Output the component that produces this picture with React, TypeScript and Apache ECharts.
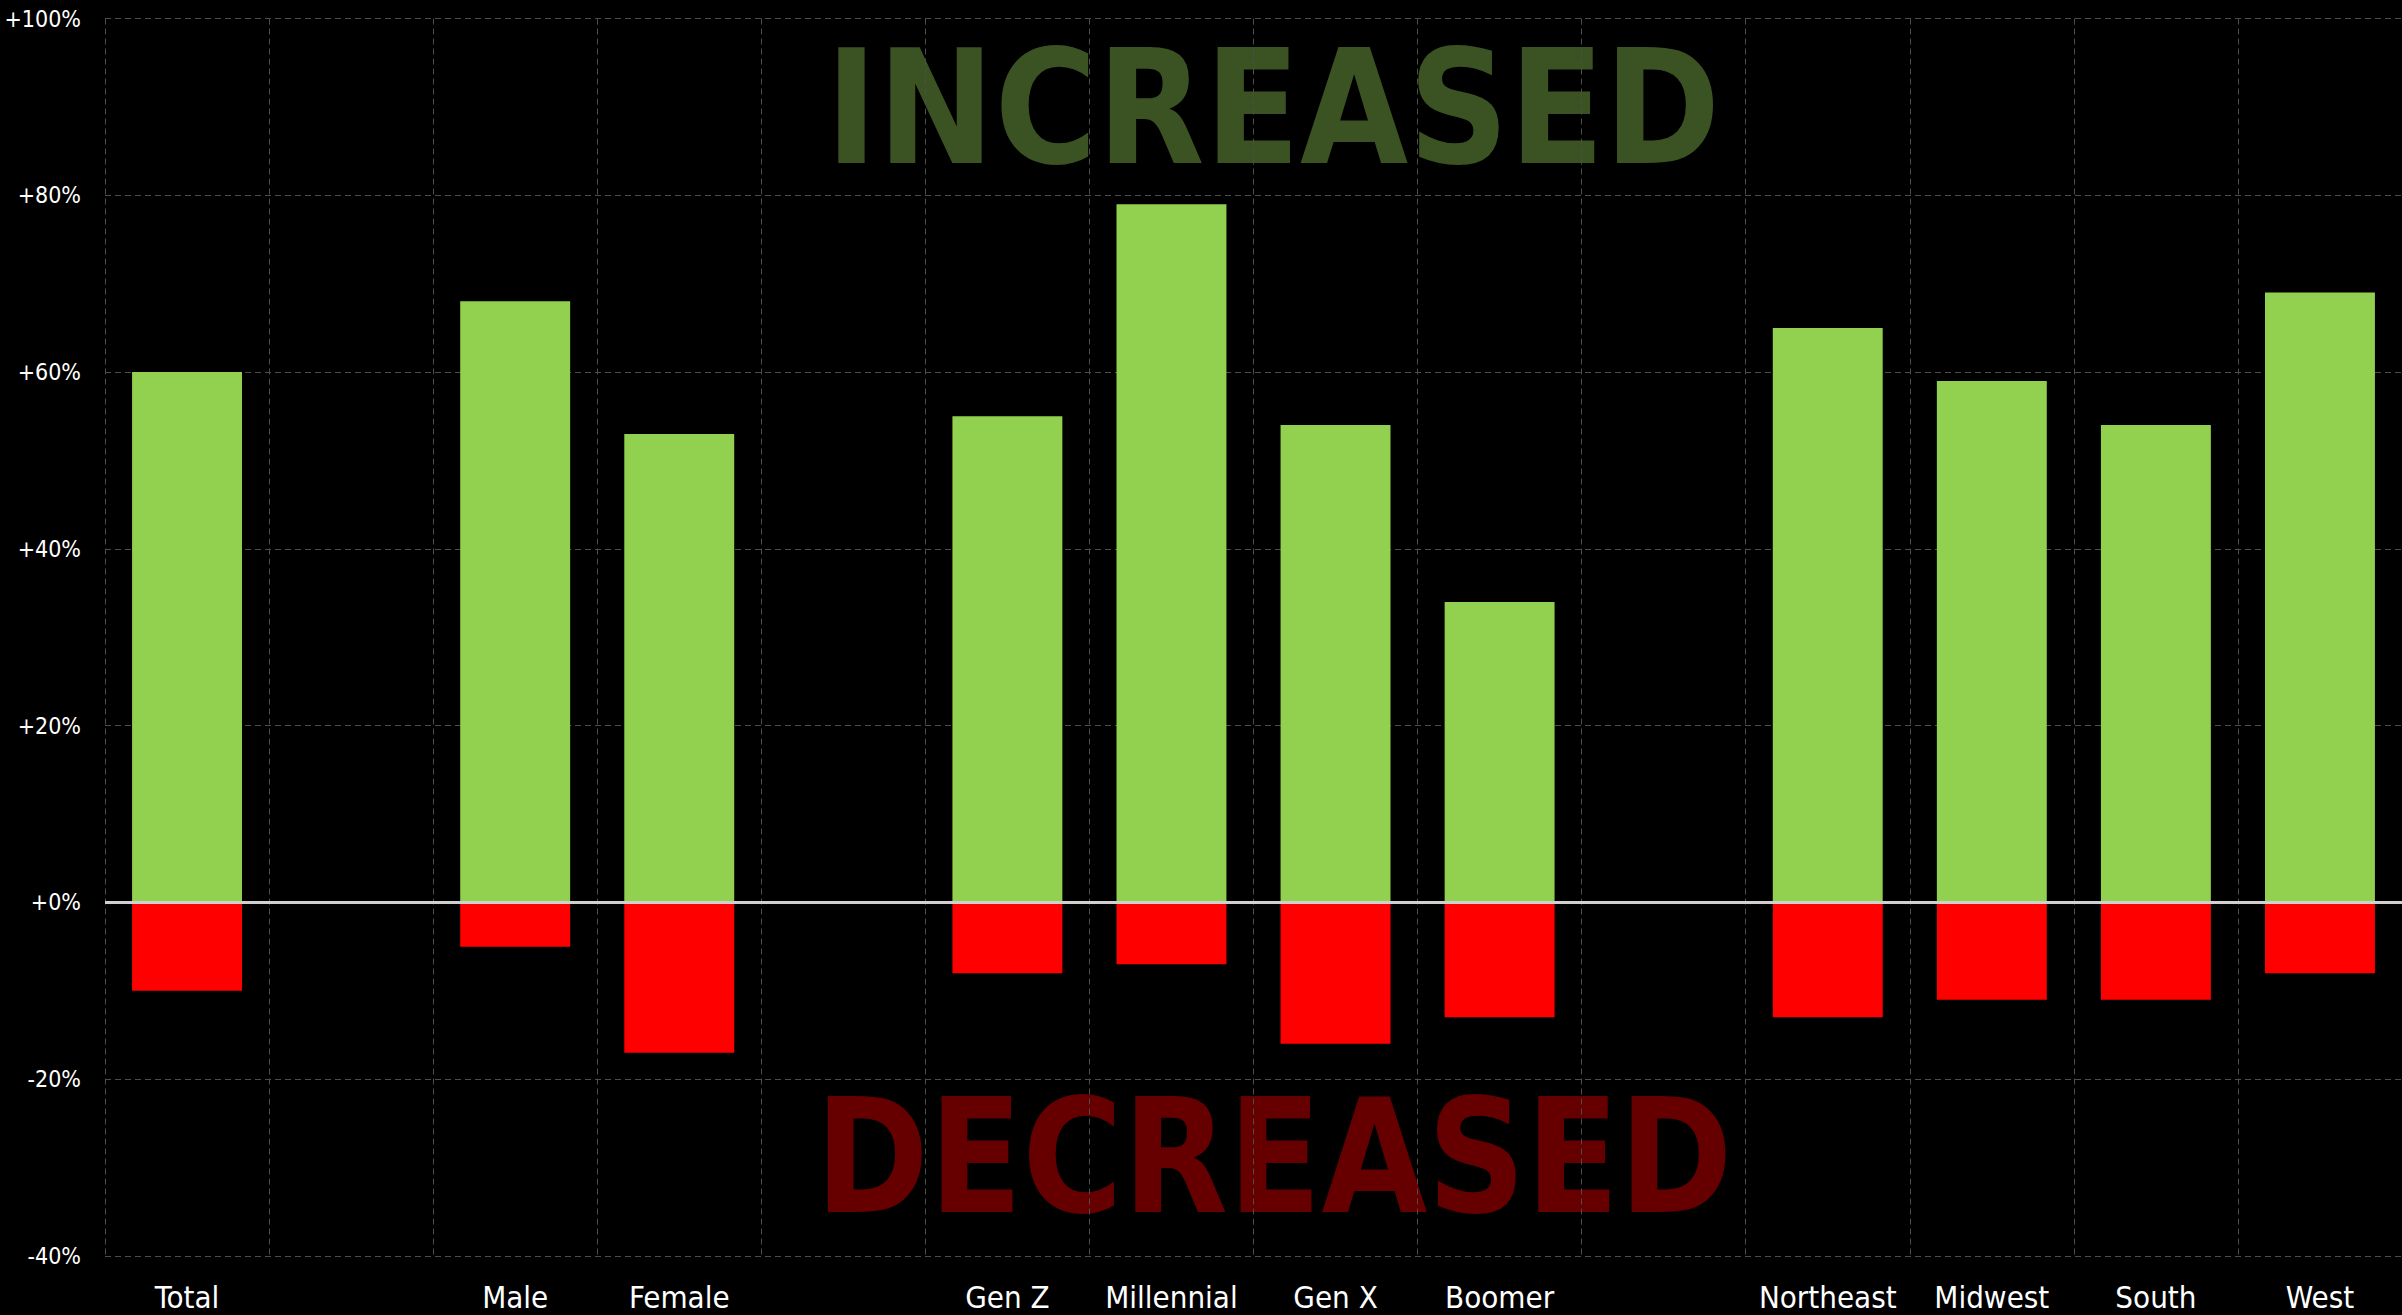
import React, { useEffect, useRef } from "react";
import * as echarts from "echarts";

const categories = [
  "Total", "", "Male", "Female", " ", "Gen Z", "Millennial", "Gen X", "Boomer", "  ",
  "Northeast", "Midwest", "South", "West",
];
const increased = [60, null, 68, 53, null, 55, 79, 54, 34, null, 65, 59, 54, 69];
const decreased = [-10, null, -5, -17, null, -8, -7, -16, -13, null, -13, -11, -11, -8];

const Y_MIN = -40;
const Y_MAX = 100;
const Y_STEP = 20;

const FONT = "'DejaVu Sans Condensed', 'DejaVu Sans', sans-serif";

export default function App() {
  const ref = useRef<HTMLDivElement>(null);

  useEffect(() => {
    if (!ref.current) return;
    const chart = echarts.init(ref.current, null, { renderer: "svg" });
    const dashed = { color: "#4d4d4d", width: 1, type: [6, 4] as any };
    chart.setOption({
      animation: false,
      backgroundColor: "#000000",
      grid: {
        left: 105,
        right: 0,
        top: 18.5,
        bottom: 59,
        containLabel: false,
        outerBoundsMode: "none",
      },
      graphic: [
        {
          type: "text",
          x: 1273,
          y: 109,
          z: -10,
          scaleX: 0.983,
          style: {
            text: "INCREASED",
            fill: "#3b5323",
            font: "bold 158px " + FONT,
            textAlign: "center",
            textVerticalAlign: "middle",
          },
        },
        {
          type: "text",
          x: 1274,
          y: 1157,
          z: -10,
          scaleX: 0.962,
          style: {
            text: "DECREASED",
            fill: "#660000",
            font: "bold 158px " + FONT,
            textAlign: "center",
            textVerticalAlign: "middle",
          },
        },
      ],
      xAxis: {
        type: "category",
        data: categories,
        axisLine: { show: false },
        axisTick: { show: false },
        axisLabel: {
          interval: 0,
          color: "#ffffff",
          fontSize: 31,
          lineHeight: 31,
          fontFamily: FONT,
          margin: 25,
        },
        splitLine: { show: true, interval: 0, lineStyle: dashed },
      },
      yAxis: {
        type: "value",
        min: Y_MIN,
        max: Y_MAX,
        interval: Y_STEP,
        axisLine: { show: false },
        axisTick: { show: false },
        axisLabel: {
          color: "#ffffff",
          fontSize: 23,
          fontFamily: FONT,
          margin: 24,
          formatter: (v: number) => (v >= 0 ? "+" + v + "%" : v + "%"),
        },
        splitLine: { show: true, lineStyle: dashed },
      },
      series: [
        {
          name: "Increased",
          type: "bar",
          stack: "total",
          data: increased,
          barWidth: "67%",
          itemStyle: { color: "#92d050" },
          markLine: {
            silent: true,
            symbol: "none",
            label: { show: false },
            lineStyle: { color: "#d0d0d0", width: 3, type: "solid" },
            data: [{ yAxis: 0 }],
          },
        },
        {
          name: "Decreased",
          type: "bar",
          stack: "total",
          data: decreased,
          barWidth: "67%",
          itemStyle: { color: "#ff0000" },
        },
      ],
    });
    return () => chart.dispose();
  }, []);

  return (
    <div
      ref={ref}
      style={{ position: "fixed", left: 0, top: 0, width: 2402, height: 1315 }}
    />
  );
}
